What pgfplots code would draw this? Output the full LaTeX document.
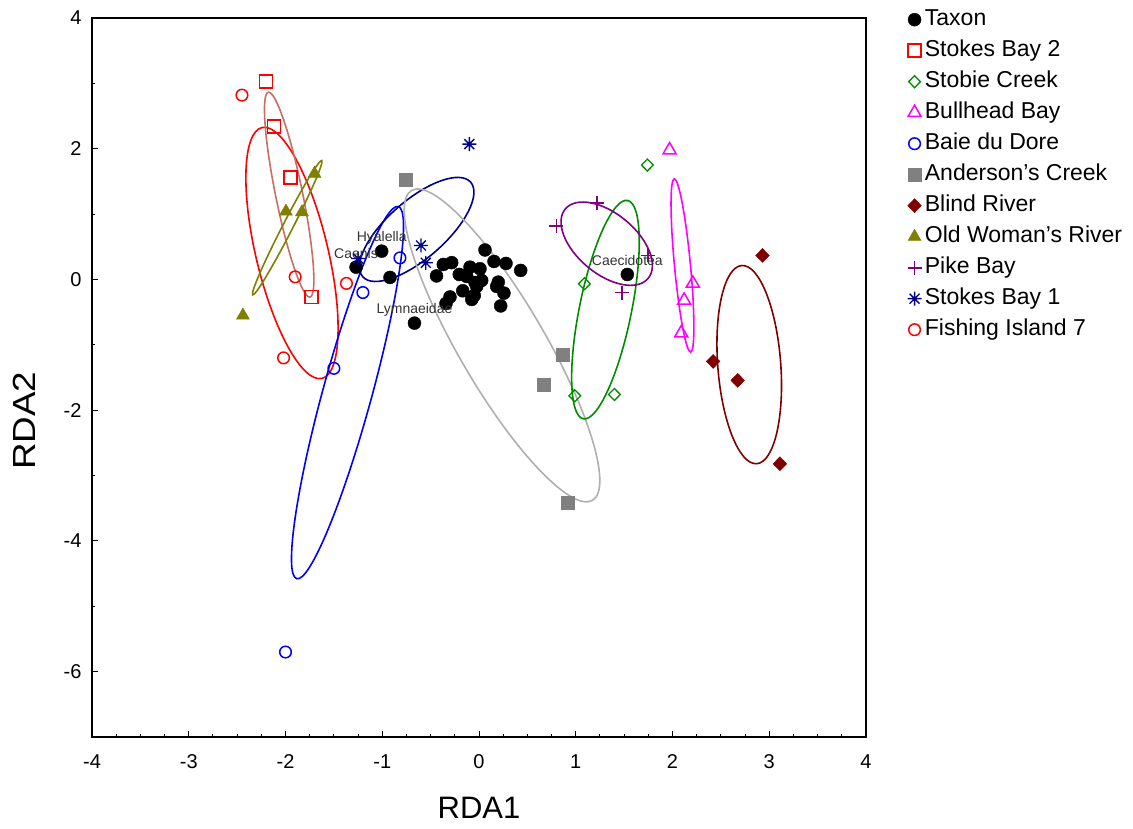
\documentclass[border=0pt]{standalone}
\usepackage{pgfplots}
\pgfplotsset{compat=1.18}
\usepackage{graphicx}
\usepackage{fontspec}
\setmainfont{Liberation Sans}
\definecolor{srose}{RGB}{200,110,100}
\definecolor{cgreen}{RGB}{0,140,0}
\definecolor{cgray}{RGB}{128,128,128}
\definecolor{clgray}{RGB}{175,175,175}
\definecolor{cdred}{RGB}{128,0,0}
\definecolor{colive}{RGB}{128,128,0}
\definecolor{cpurple}{RGB}{128,0,128}
\definecolor{cnavy}{RGB}{0,0,140}
\definecolor{cmag}{RGB}{255,0,255}
\pgfdeclareplotmark{ast8}{%
 \pgfpathmoveto{\pgfqpoint{0pt}{\pgfplotmarksize}}\pgfpathlineto{\pgfqpoint{0pt}{-\pgfplotmarksize}}%
 \pgfpathmoveto{\pgfqpoint{\pgfplotmarksize}{0pt}}\pgfpathlineto{\pgfqpoint{-\pgfplotmarksize}{0pt}}%
 \pgfpathmoveto{\pgfqpoint{.707\pgfplotmarksize}{.707\pgfplotmarksize}}\pgfpathlineto{\pgfqpoint{-.707\pgfplotmarksize}{-.707\pgfplotmarksize}}%
 \pgfpathmoveto{\pgfqpoint{-.707\pgfplotmarksize}{.707\pgfplotmarksize}}\pgfpathlineto{\pgfqpoint{.707\pgfplotmarksize}{-.707\pgfplotmarksize}}%
 \pgfusepathqstroke}
% confidence ellipse: colour, centre (x,y), conjugate semi-axes (ux,uy), (vx,vy) in data units
\newcommand{\confell}[7]{\pgfplotsextra{\begin{pgfscope}\pgfsetstrokecolor{#1}\pgfsetlinewidth{1.6pt}%
\pgfpathellipse{\pgfplotspointaxisxy{#2}{#3}}{\pgfplotspointaxisdirectionxy{#4}{#5}}{\pgfplotspointaxisdirectionxy{#6}{#7}}%
\pgfusepath{stroke}\end{pgfscope}}}
\begin{document}
\begin{tikzpicture}
\useasboundingbox (-92pt,-91pt) rectangle (1041pt,737pt);
\begin{axis}[
 at={(0pt,0pt)}, anchor=south west,
 scale only axis, width=774pt, height=719pt,
 xmin=-4, xmax=4, ymin=-7, ymax=4,
 xtick={-4,-3,...,4}, ytick={-6,-4,...,4},
 minor x tick num=3, minor y tick num=1,
 tick align=inside, xtick pos=bottom, ytick pos=left,
 major tick length=6pt, minor tick length=3.5pt,
 tick style={black, line width=0.9pt},
 axis line style={line width=1.2pt},
 ticklabel style={font=\fontsize{20}{20}\selectfont},
 /pgf/number format/assume math mode=true,
 xticklabel style={yshift=-14pt},
 yticklabel style={xshift=-7pt},
 xlabel={RDA1}, ylabel={\scalebox{1.15}[1]{RDA2}},
 every axis x label/.style={at={(axis description cs:0.5,-0.0988)}, anchor=center, font=\fontsize{31}{31}\selectfont},
 every axis y label/.style={at={(axis description cs:-0.0872,0.44)}, anchor=center, rotate=90, font=\fontsize{32}{32}\selectfont},
 legend style={at={(axis description cs:1,1)}, anchor=north west, xshift=40pt, yshift=9.5pt, draw=none, fill=none,
   font=\fontsize{23}{23}\selectfont, inner xsep=0pt, inner ysep=0pt, row sep=9pt, column sep=2pt,
   nodes={inner sep=0pt, text height=17pt, text depth=5pt}},
 legend cell align=left,
 legend image code/.code={\path (-7.5pt,0pt) (7.5pt,0pt); \draw[mark repeat=1,mark phase=1] plot coordinates {(0pt,0pt)};},
]
\confell{red}{-1.933}{0.405}{0.310}{-1.919}{-0.362}{-0.128}
\confell{srose}{-1.962}{1.297}{0.2155}{-1.567}{-0.1367}{-0.0411}
\confell{colive}{-1.982}{0.792}{0.3566}{1.027}{0.046}{-0.035}
\confell{blue}{-1.359}{-1.731}{-0.525}{-2.847}{0.2443}{-0.0986}
\confell{cnavy}{-0.644}{0.765}{0.558}{0.723}{0.197}{-0.333}
\confell{clgray}{0.238}{-1.009}{0.935}{-2.370}{0.3835}{0.332}
\confell{cgreen}{1.307}{-0.462}{-0.2295}{-1.670}{0.2636}{-0.0792}
\confell{cpurple}{1.320}{0.547}{0.428}{-0.531}{-0.1995}{-0.352}
\confell{cmag}{2.103}{0.214}{0.0848}{-1.326}{0.0823}{0.0115}
\confell{cdred}{2.793}{-1.303}{0.0775}{-1.516}{0.3246}{0.0364}

\addplot[only marks, mark=*, mark size=6.5pt, black] coordinates {
(0.062,0.451) (-0.369,0.229) (-0.282,0.257) (-0.439,0.054) (-0.204,0.076)
(-0.093,0.188) (0.010,0.164) (-0.127,0.046) (-0.041,-0.046) (0.028,-0.015)
(0.155,0.275) (0.279,0.245) (0.431,0.138) (0.199,-0.041) (0.258,-0.209)
(0.224,-0.405) (-0.168,-0.173) (-0.300,-0.268) (-0.341,-0.367) (-0.075,-0.306)
(-0.024,-0.107) (0.183,-0.107) (-0.049,-0.245)
(-1.006,0.433) (-1.271,0.188) (-0.920,0.031) (-0.667,-0.668) (1.533,0.076)
};
\addlegendentry{Taxon}
\addplot[only marks, mark=square, mark size=6.5pt, red, line width=1.5pt] coordinates {
(-2.20,3.03) (-2.12,2.34) (-1.95,1.56) (-1.73,-0.27)};
\addlegendentry{Stokes Bay 2}
\addplot[only marks, mark=diamond, mark size=6pt, mark options={xscale=1.3}, cgreen, line width=1.3pt] coordinates {
(1.74,1.75) (1.09,-0.066) (0.99,-1.78) (1.40,-1.76)};
\addlegendentry{Stobie Creek}
\addplot[only marks, mark=triangle, mark size=7.5pt, cmag, line width=1.5pt] coordinates {
(1.97,1.98) (2.21,-0.06) (2.12,-0.32) (2.09,-0.82)};
\addlegendentry{Bullhead Bay}
\addplot[only marks, mark=o, mark size=5.8pt, blue, line width=1.5pt] coordinates {
(-0.817,0.33) (-1.20,-0.20) (-1.50,-1.36) (-2.00,-5.70)};
\addlegendentry{Baie du Dore}
\addplot[only marks, mark=square*, mark size=6.5pt, cgray, fill=cgray] coordinates {
(-0.755,1.53) (0.865,-1.147) (0.665,-1.606) (0.913,-3.415)};
\addlegendentry{Anderson's Creek}
\addplot[only marks, mark=diamond*, mark size=7pt, mark options={xscale=1.3}, cdred, fill=cdred] coordinates {
(2.93,0.367) (2.42,-1.254) (2.674,-1.544) (3.11,-2.82)};
\addlegendentry{Blind River}
\addplot[only marks, mark=triangle*, mark size=7.5pt, colive, fill=colive] coordinates {
(-1.70,1.62) (-1.995,1.04) (-1.83,1.03) (-2.44,-0.55)};
\addlegendentry{Old Woman's River}
\addplot[only marks, mark=+, mark size=7pt, cpurple, line width=1.7pt] coordinates {
(1.217,1.17) (0.80,0.815) (1.75,0.367) (1.475,-0.20)};
\addlegendentry{Pike Bay}
\addplot[only marks, mark=ast8, mark size=7pt, cnavy, line width=1.4pt] coordinates {
(-0.10,2.07) (-0.60,0.52) (-0.55,0.255) (-1.25,0.32)};
\addlegendentry{Stokes Bay 1}
\addplot[only marks, mark=o, mark size=5.8pt, red, line width=1.5pt] coordinates {
(-2.45,2.82) (-1.90,0.04) (-1.37,-0.06) (-2.02,-1.20)};
\addlegendentry{Fishing Island 7}

\addplot[forget plot, draw=none, mark=none, nodes near coords, point meta=explicit symbolic,
  nodes near coords style={font=\fontsize{14}{14}\selectfont, text=black!80, anchor=center, yshift=13.5pt, inner sep=0pt}]
  table[meta=lab] {
x y lab
-1.006 0.433 Hyalella
-1.271 0.188 Caenis
-0.667 -0.668 Lymnaeidae
1.533 0.076 Caecidotea
};
\end{axis}
\end{tikzpicture}
\end{document}
